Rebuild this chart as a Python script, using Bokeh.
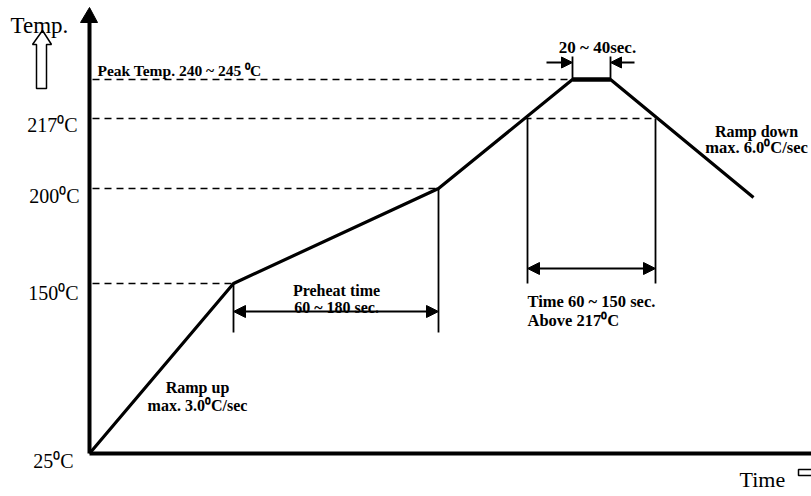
from bokeh.plotting import figure
from bokeh.models import Range1d, Arrow, NormalHead
from bokeh.core.properties import value
from bokeh.embed import file_html
from bokeh.resources import INLINE

# ---- schematic data (diagram units: time → right, temperature level → up) ----
profile_time = [0, 144, 349, 483, 521, 664]
profile_level = [0, 170, 265, 374, 374, 256]

level_labels = ["25⁰C", "150⁰C", "200⁰C", "217⁰C"]
level_pos = [0, 170, 265, 335]
peak_level = 374

# dashed guide lines: level position and the time where it meets the profile
dash_levels = [170, 265, 335, 374]
dash_end_time = [144, 349, 566, 483]

# vertical marker lines (time, from level, to level)
mark_time = [144, 349, 438, 566, 483, 521]
mark_from = [121, 121, 170, 170, 374, 374]
mark_to = [170, 265, 335, 335, 397, 397]

FONT = value("Liberation Serif")

p = figure(width=811, height=496, output_backend="svg", toolbar_location=None,
           x_range=Range1d(-89, 722), y_range=Range1d(-43, 453),
           x_axis_type=None, y_axis_type=None, min_border=0)
p.grid.visible = False
p.outline_line_color = None

# dashed guides
p.multi_line(xs=[[3, t] for t in dash_end_time], ys=[[l, l] for l in dash_levels],
             line_color="black", line_width=1.5, line_dash="7 5")

# vertical markers
p.segment(x0=mark_time, y0=mark_from, x1=mark_time, y1=mark_to,
          line_color="black", line_width=1.8)

# profile
p.line(profile_time, profile_level, line_color="black", line_width=3.2)
p.line(profile_time[3:5], profile_level[3:5], line_color="black", line_width=4.5)

# axes
p.line([0, 0], [0, 433], line_color="black", line_width=4)
p.line([0, 730], [0, 0], line_color="black", line_width=4)
p.patch([0, -9, 8], [446, 431, 431], fill_color="black", line_color="black")

# hollow arrows (Temp up, Time right)
p.patch([-47, -57, -53, -53, -43, -43, -38], [423, 409, 409, 365, 365, 409, 409],
        fill_color="white", line_color="black", line_width=1.5)
p.patch([709, 730, 730, 709], [-16, -16, -22, -22],
        fill_color="white", line_color="black", line_width=1.5)

# dimension arrows
def head(s):
    return NormalHead(size=s, fill_color="black", line_color="black")

p.add_layout(Arrow(start=head(12), end=head(12), x_start=144, y_start=142,
                   x_end=349, y_end=142, line_width=2))
p.add_layout(Arrow(start=head(12), end=head(12), x_start=438, y_start=185,
                   x_end=566, y_end=185, line_width=2))
p.add_layout(Arrow(end=head(11), x_start=457, y_start=391, x_end=483, y_end=391,
                   line_width=1.8))
p.add_layout(Arrow(end=head(11), x_start=545, y_start=391, x_end=521, y_end=391,
                   line_width=1.8))

def txt(x, y, s, size, align="left", style="normal"):
    p.text(x=[x], y=[y], text=[s], text_font=FONT, text_font_size=size,
           text_font_style=style, text_align=align, text_baseline="alphabetic",
           text_color="black")

# level labels
label_base = [-7, 161, 258, 329]
label_right = [-16, -11, -10, -12]
for lab, b, r in zip(level_labels, label_base, label_right):
    txt(r, b, lab, "20px", "right")

txt(-79, 428, "Temp.", "23px")
txt(650, -26, "Time", "22px")
txt(8, 383, "Peak Temp. 240 ~ 245 ⁰C", "15.5px", style="bold")
txt(508, 406, "20 ~ 40sec.", "17px", "center", "bold")
txt(247, 163, "Preheat time", "16px", "center", "bold")
txt(247, 146, "60 ~ 180 sec.", "16px", "center", "bold")
txt(438, 152, "Time 60 ~ 150 sec.", "16.5px", style="bold")
txt(438, 133, "Above 217⁰C", "16.5px", style="bold")
txt(108, 66, "Ramp up", "16px", "center", "bold")
txt(108, 48, "max. 3.0⁰C/sec", "16px", "center", "bold")
txt(667, 322, "Ramp down", "16px", "center", "bold")
txt(667, 306, "max. 6.0⁰C/sec", "16.5px", "center", "bold")

open("out.html", "w").write(file_html(p, INLINE))
